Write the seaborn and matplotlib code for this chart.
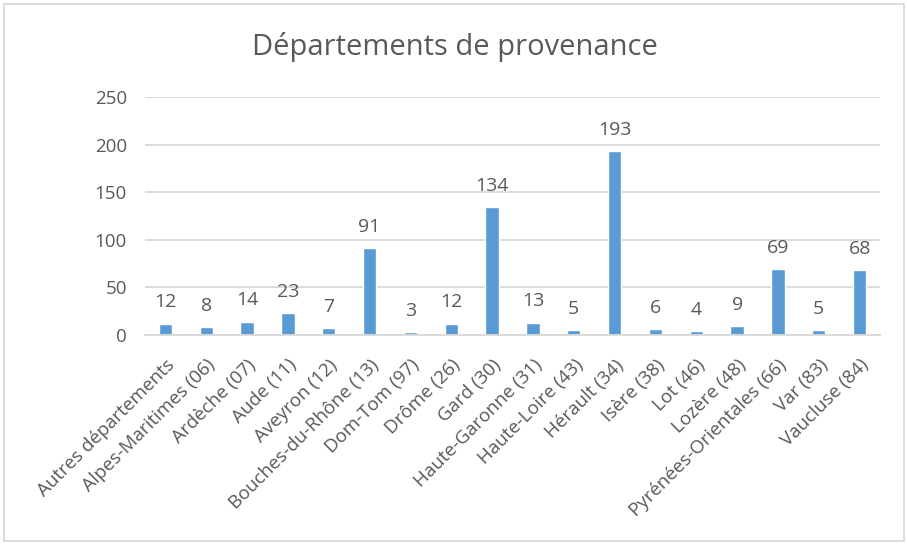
import seaborn as sns
import matplotlib.pyplot as plt
import pandas as pd
from matplotlib.patches import Rectangle

# Données
departements = ['Autres départements', 'Alpes-Maritimes (06)', 'Ardèche (07)', 'Aude (11)',
                'Aveyron (12)', 'Bouches-du-Rhône (13)', 'Dom-Tom (97)', 'Drôme (26)',
                'Gard (30)', 'Haute-Garonne (31)', 'Haute-Loire (43)', 'Hérault (34)',
                'Isère (38)', 'Lot (46)', 'Lozère (48)', 'Pyrénées-Orientales (66)',
                'Var (83)', 'Vaucluse (84)']
effectifs = [12, 8, 14, 23, 7, 91, 3, 12, 134, 13, 5, 193, 6, 4, 9, 69, 5, 68]
y_ticks = [0, 50, 100, 150, 200, 250]
titre = 'Départements de provenance'

gris = '#595959'
bleu = '#5B9BD5'

sns.set_style('white')
plt.rcParams['font.family'] = ['Open Sans', 'DejaVu Sans']

df = pd.DataFrame({'dep': departements, 'n': effectifs})

fig = plt.figure(figsize=(9.07, 5.46), dpi=100)
ax = fig.add_axes([145 / 907, 1 - 335 / 546, 735 / 907, 238 / 546])

sns.barplot(data=df, x='dep', y='n', color=bleu, width=0.33, saturation=1, ax=ax)

ax.set_ylim(0, 250)
ax.set_yticks(y_ticks)
ax.yaxis.grid(True, color='#D9D9D9', linewidth=1.3)
ax.set_axisbelow(True)
for s in ['top', 'right', 'left']:
    ax.spines[s].set_visible(False)
ax.spines['bottom'].set_color('#D9D9D9')
ax.spines['bottom'].set_linewidth(1.3)
ax.tick_params(axis='both', length=0, labelsize=13.5, colors=gris)
ax.tick_params(axis='y', pad=13)
ax.set_xlabel('')
ax.set_ylabel('')
ax.set_xticks(range(len(departements)))
ax.set_xticklabels(departements, rotation=45, ha='right', rotation_mode='anchor')
ax.tick_params(axis='x', pad=15)

# Étiquettes de valeurs
for i, v in enumerate(effectifs):
    ax.annotate(str(v), (i, v), xytext=(0, 9), textcoords='offset points',
                ha='center', va='bottom', fontsize=14, color=gris)

fig.text(455 / 907, 1 - 47 / 546, titre, ha='center', va='center', fontsize=21, color=gris)

# Cadre
fig.patches.append(Rectangle((4 / 907, 5 / 546), 900 / 907, 537 / 546, transform=fig.transFigure,
                             fill=False, edgecolor='#D9D9D9', linewidth=1.3))

fig.savefig('out.png', dpi=100)
